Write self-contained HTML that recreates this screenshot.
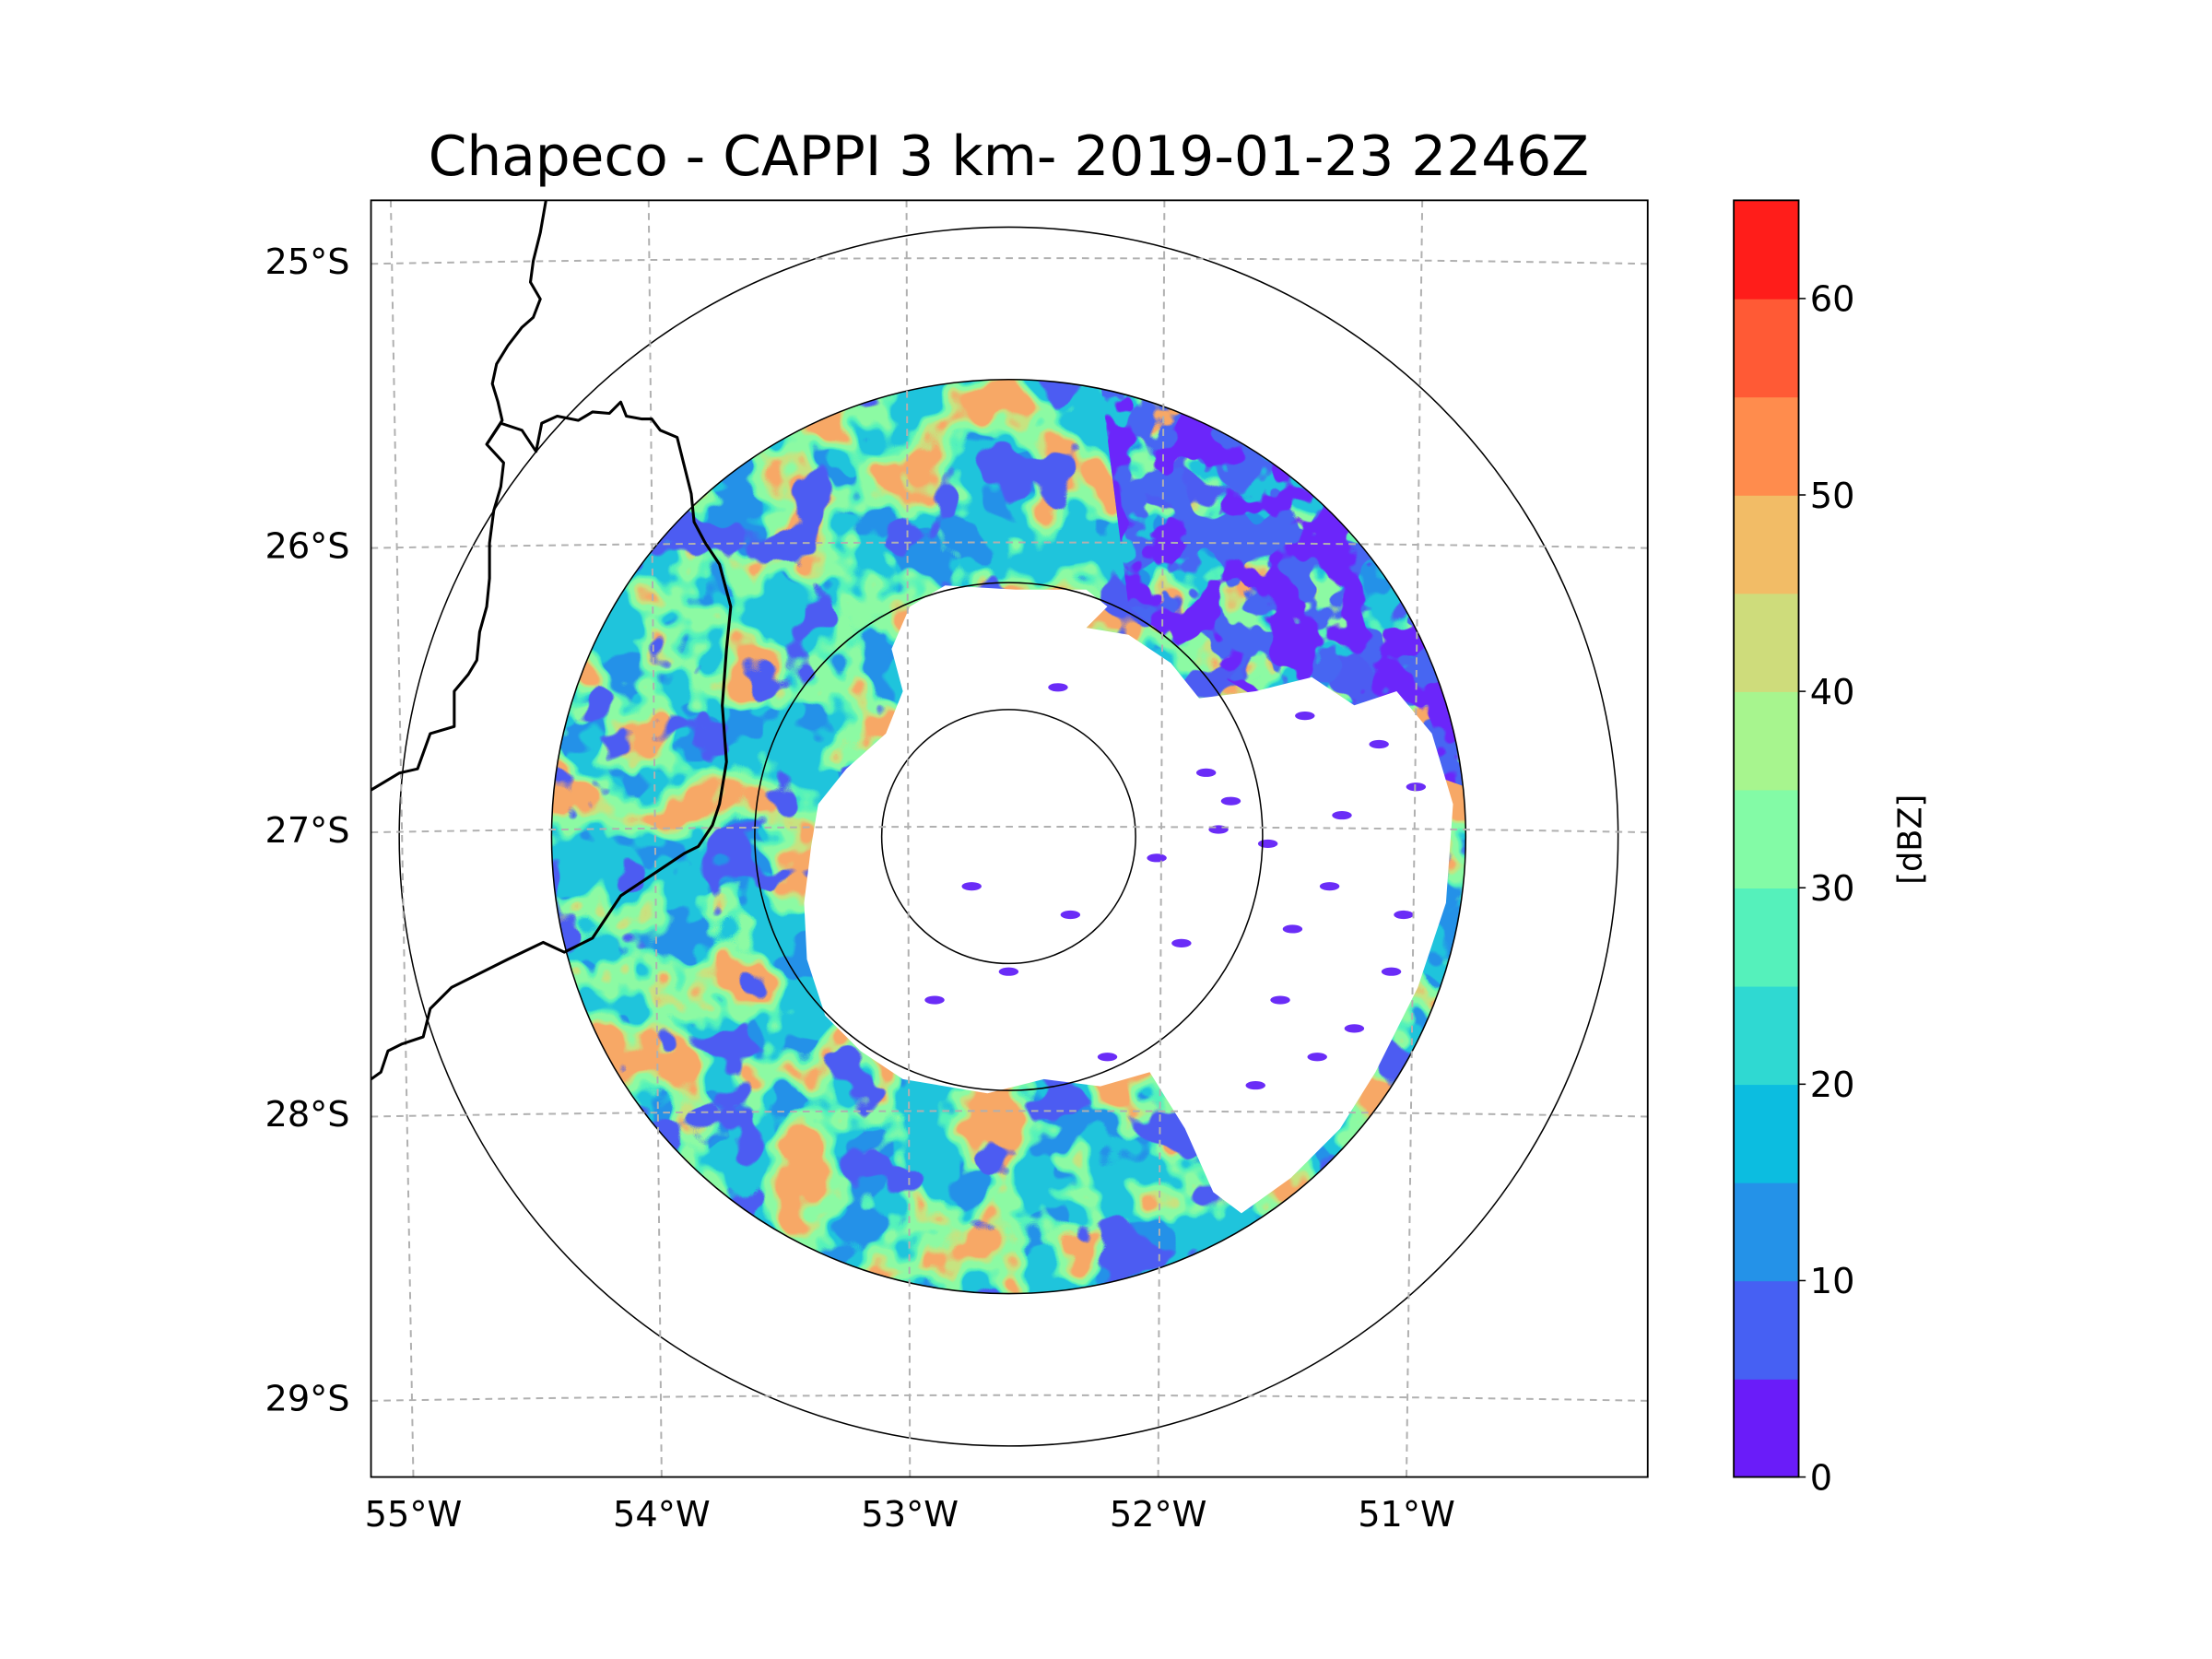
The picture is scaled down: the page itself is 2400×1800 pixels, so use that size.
<!DOCTYPE html>
<html><head><meta charset="utf-8"><style>
html,body{margin:0;padding:0;background:#fff}
svg{display:block}
text{font-family:"DejaVu Sans","Liberation Sans",sans-serif}
filter{color-interpolation-filters:sRGB}
</style></head><body>
<svg id="fig" width="2400" height="1800" viewBox="0 0 1568 1176" xmlns="http://www.w3.org/2000/svg">
<defs>
<clipPath id="axclip"><rect x="263" y="142" width="905" height="905"/></clipPath>
<clipPath id="radclip"><circle cx="715" cy="593" r="324"/></clipPath>
<clipPath id="eastclip"><path d="M780,270 L1045,330 L1045,560 L990,540 L900,500 L850,470 L800,430 Z"/></clipPath>
<filter id="nBlue" x="0" y="0" width="100%" height="100%" color-interpolation-filters="sRGB"><feTurbulence type="fractalNoise" baseFrequency="0.022" numOctaves="3" seed="7"/><feColorMatrix type="matrix" values="0 0 0 0 0.14 0 0 0 0 0.57 0 0 0 0 0.91 30 0 0 0 -16.3"/></filter>
<filter id="nTeal" x="0" y="0" width="100%" height="100%" color-interpolation-filters="sRGB"><feTurbulence type="fractalNoise" baseFrequency="0.022" numOctaves="3" seed="3"/><feColorMatrix type="matrix" values="0 0 0 0 0.33 0 0 0 0 0.95 0 0 0 0 0.73 30 0 0 0 -14.0"/></filter>
<filter id="nGreen" x="0" y="0" width="100%" height="100%" color-interpolation-filters="sRGB"><feTurbulence type="fractalNoise" baseFrequency="0.022" numOctaves="3" seed="3"/><feColorMatrix type="matrix" values="0 0 0 0 0.55 0 0 0 0 0.98 0 0 0 0 0.64 30 0 0 0 -15.2"/></filter>
<filter id="nYellow" x="0" y="0" width="100%" height="100%" color-interpolation-filters="sRGB"><feTurbulence type="fractalNoise" baseFrequency="0.022" numOctaves="3" seed="3"/><feColorMatrix type="matrix" values="0 0 0 0 0.78 0 0 0 0 0.89 0 0 0 0 0.5 30 0 0 0 -17.6"/></filter>
<filter id="nOrange" x="0" y="0" width="100%" height="100%" color-interpolation-filters="sRGB"><feTurbulence type="fractalNoise" baseFrequency="0.022" numOctaves="3" seed="3"/><feColorMatrix type="matrix" values="0 0 0 0 0.97 0 0 0 0 0.66 0 0 0 0 0.4 30 0 0 0 -18.9"/></filter>
<filter id="nPurple" x="0" y="0" width="100%" height="100%" color-interpolation-filters="sRGB"><feTurbulence type="fractalNoise" baseFrequency="0.022" numOctaves="3" seed="11"/><feColorMatrix type="matrix" values="0 0 0 0 0.3 0 0 0 0 0.36 0 0 0 0 0.95 30 0 0 0 -18.8"/></filter>
<filter id="nEast" x="0" y="0" width="100%" height="100%" color-interpolation-filters="sRGB"><feTurbulence type="fractalNoise" baseFrequency="0.03" numOctaves="3" seed="21"/><feColorMatrix type="matrix" values="0 0 0 0 0.28 0 0 0 0 0.4 0 0 0 0 0.95 30 0 0 0 -14"/></filter>
<filter id="nEast2" x="0" y="0" width="100%" height="100%" color-interpolation-filters="sRGB"><feTurbulence type="fractalNoise" baseFrequency="0.03" numOctaves="3" seed="22"/><feColorMatrix type="matrix" values="0 0 0 0 0.42 0 0 0 0 0.15 0 0 0 0 0.98 30 0 0 0 -15.8"/></filter>
</defs>
<text x="715" y="124" font-size="39" text-anchor="middle">Chapeco - CAPPI 3 km- 2019-01-23 2246Z</text>

<g id="radar" clip-path="url(#radclip)">
  <rect x="390" y="265" width="660" height="660" fill="#1fc4dc"/>
  <rect x="390" y="265" width="660" height="660" filter="url(#nBlue)"/>
  <rect x="390" y="265" width="660" height="660" filter="url(#nTeal)"/>
  <rect x="390" y="265" width="660" height="660" filter="url(#nGreen)"/>
  <rect x="390" y="265" width="660" height="660" filter="url(#nYellow)"/>
  <rect x="390" y="265" width="660" height="660" filter="url(#nOrange)"/>
  <rect x="390" y="265" width="660" height="660" filter="url(#nPurple)"/>
  <g clip-path="url(#eastclip)">
    <rect x="390" y="265" width="660" height="660" filter="url(#nEast)"/>
    <rect x="390" y="265" width="660" height="660" filter="url(#nEast2)"/>
  </g>
  <path fill="#fff" d="M575,600 L580,570 600,545 628,520 640,490 632,460 645,430 670,415 720,418 770,418 785,430 770,445 800,450 830,470 850,495 890,490 930,480 960,500 990,490 1015,520 1030,570 1025,640 1005,700 975,760 950,800 915,835 880,860 860,845 840,800 815,760 780,770 740,765 700,775 670,770 640,765 610,745 585,720 572,680 570,640 Z"/>
  <g id="specks" fill="#6a2cf7"></g>
</g>

<g id="rings" fill="none" stroke="#000" stroke-width="1"></g>
<g id="grid" clip-path="url(#axclip)" fill="none" stroke="#b0b0b0" stroke-width="1.3" stroke-dasharray="5,4"></g>
<g clip-path="url(#axclip)" fill="none" stroke="#000" stroke-width="2" stroke-linejoin="round">
  <polyline points="387,142 383,165 378,185 376,200 383,212 378,225 370,232 360,245 352,258 349,272 353,285 356,298 345,315 357,328 355,345 350,362 347,385 347,410 345,430 340,448 338,468 332,478 322,490 322,515 305,520 296,545 283,548 263,560"/>
  <polyline points="345,315 355,300 370,305 380,320 384,300 395,295 410,298 420,292 432,293 440,285 444,295 455,297 462,297 468,305 480,310 485,330 490,350 492,370 500,385 510,400 518,430 515,460 512,500 515,540 510,570 505,585 495,600 485,605 470,615 455,625 440,635 430,650 420,665 400,675 385,668 360,680 340,690 320,700 305,715 300,735 285,740 275,745 270,760 263,765"/>
</g>
<rect x="263" y="142" width="905" height="905" fill="none" stroke="#000" stroke-width="1.2"/>
<g id="ticks" font-size="20"></g>
<g id="cbar"></g>
</svg>
<script>
const NS='http://www.w3.org/2000/svg';
const latTicks=[25,26,27,28,29];
const latLabels=['25°S','26°S','27°S','28°S','29°S'];
const lonTicks=[55,54,53,52,51];
const lonLabels=['55°W','54°W','53°W','52°W','51°W'];
const ringRadiiKm=[100,200,360,480];
const cbLevels=[0,5,10,15,20,25,30,35,40,45,50,55,60,65];
const cbColors=['#6a1cf9','#4660f3','#2492e8','#0cbde0','#2fd9d2','#55f1bb','#83fba6','#a7f58e','#cedc7b','#f2bc66','#ff8c4d','#ff5a35','#ff1d1a'];
const cbTickVals=[0,10,20,30,40,50,60];
const speckLon=[52.0,51.7,51.3,51.1,51.5,51.9,52.2,51.4,51.0,51.8,52.6,52.9,51.6,51.2,52.4,51.55,51.25,50.95,51.45,51.75,52.35,52.75,51.05,51.35];
const speckLat=[27.1,26.9,27.2,26.7,27.6,27.4,27.8,26.6,27.3,26.8,27.5,27.6,27.9,27.7,26.5,27.05,26.95,26.85,27.35,27.0,27.3,27.2,27.5,27.8];

function el(tag,attrs,parent){const e=document.createElementNS(NS,tag);for(const k in attrs)e.setAttribute(k,attrs[k]);parent.appendChild(e);return e;}
const yLat=v=>185+(v-25)*201.5;
const xLonBottom=v=>293+(55-v)*176;
const xLonTop=v=>277+(55-v)*182.8;
const kmScale=0.9;
const rKm=km=>km*kmScale;
const cx=715, cy=593;
const xLon=v=>cx+(52.6-v)*175;

const grid=document.getElementById('grid');
latTicks.forEach((v,i)=>{const y=yLat(v);
  const p=el('path',{d:`M263,${y+2} Q715,${y-6} 1168,${y+2}`},grid);
  
  });
lonTicks.forEach(v=>{
  const l=el('line',{x1:xLonTop(v),y1:142,x2:xLonBottom(v),y2:1047},grid);
  
  });

const rings=document.getElementById('rings');
ringRadiiKm.forEach(km=>{
  const c=el('circle',{cx:cx,cy:cy,r:rKm(km)},rings);
  
  });

const sp=document.getElementById('specks');
speckLon.forEach((v,i)=>{
  const e=el('ellipse',{cx:xLon(v),cy:yLat(speckLat[i]),rx:7,ry:3},sp);
  
  });

const ticks=document.getElementById('ticks');
latTicks.forEach((v,i)=>{
  const t=el('text',{x:248,y:yLat(v)+9,'text-anchor':'end','font-size':25},ticks);t.textContent=latLabels[i];
  
  });
lonTicks.forEach((v,i)=>{
  const t=el('text',{x:xLonBottom(v),y:1082,'text-anchor':'middle','font-size':25},ticks);t.textContent=lonLabels[i];
  
  });

const cb=document.getElementById('cbar');
const cbX=1229,cbW=46,cbTop=142,cbBot=1047;
const yCb=v=>cbBot-(v-cbLevels[0])/(cbLevels[cbLevels.length-1]-cbLevels[0])*(cbBot-cbTop);
cbColors.forEach((c,i)=>{
  const r=el('rect',{x:cbX,y:yCb(cbLevels[i+1]),width:cbW,height:yCb(cbLevels[i])-yCb(cbLevels[i+1])+0.5,fill:c},cb);
  
  });
const fr=el('rect',{x:cbX,y:cbTop,width:cbW,height:cbBot-cbTop,fill:'none',stroke:'#000','stroke-width':1.2},cb);


cbTickVals.forEach(v=>{
  el('line',{x1:cbX+cbW,y1:yCb(v),x2:cbX+cbW+5,y2:yCb(v),stroke:'#000'},cb);
  const t=el('text',{x:cbX+cbW+8,y:yCb(v)+9,'font-size':25},cb);t.textContent=v;
  
  });
const lab=el('text',{x:1362,y:595,'font-size':23,'text-anchor':'middle',transform:'rotate(-90 1362 595)'},cb);
lab.textContent='[dBZ]';


</script>
</body></html>
